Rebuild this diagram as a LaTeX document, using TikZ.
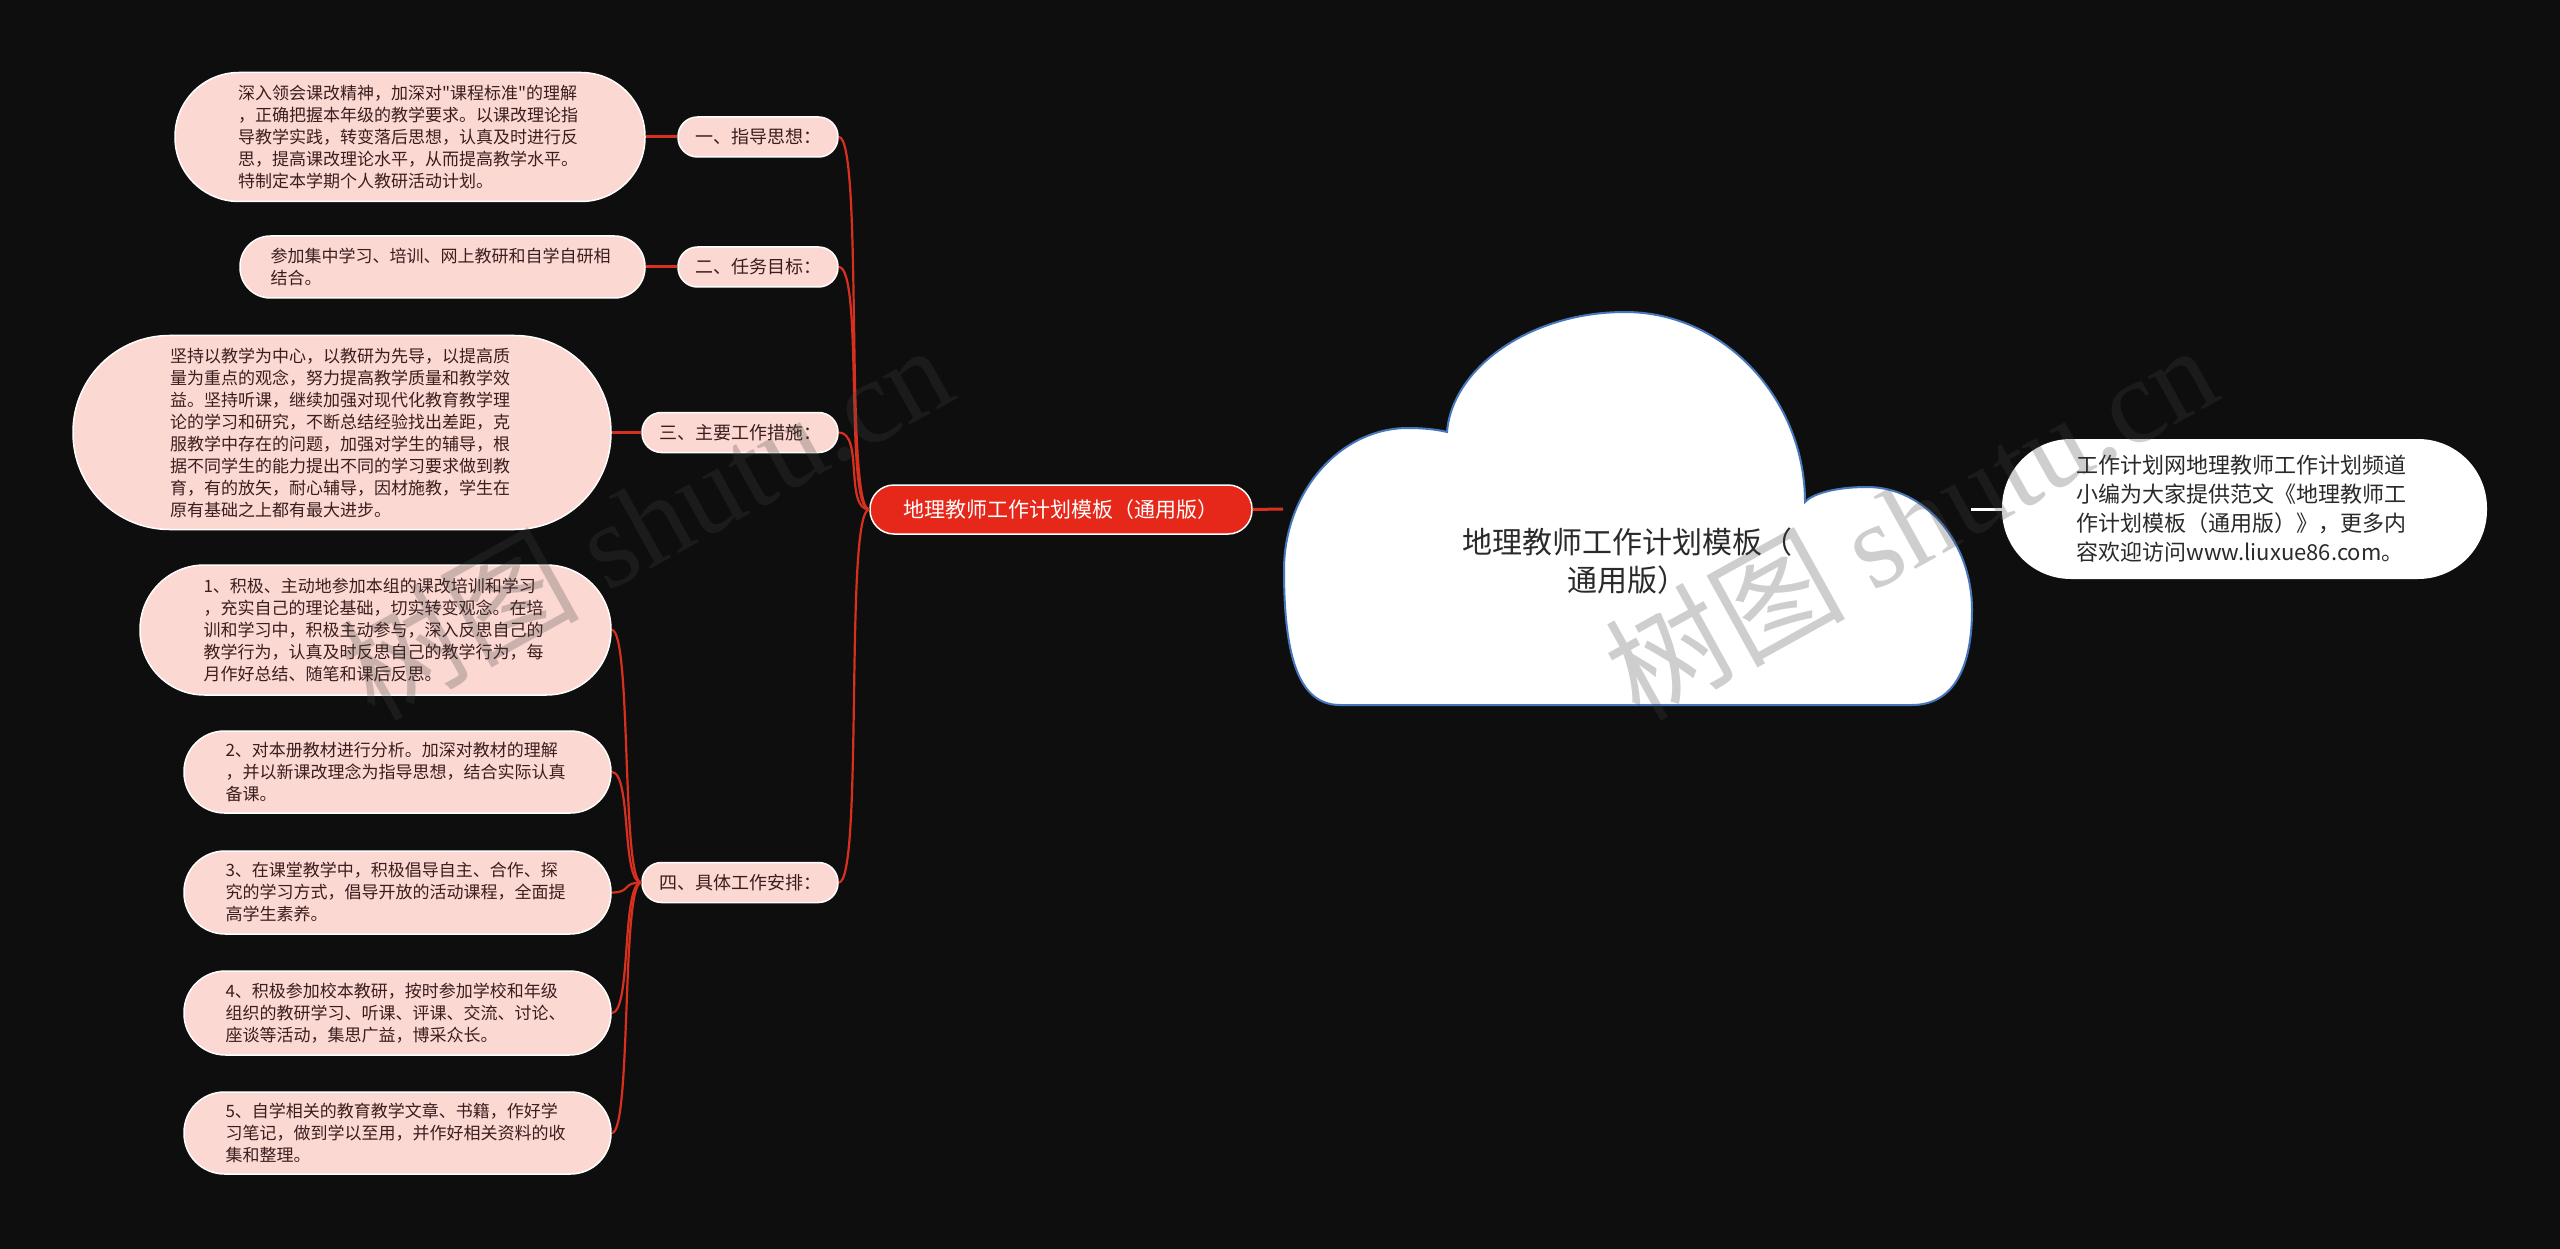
\documentclass[tikz,border=0pt]{standalone}
\usepackage{fontspec}
\setmainfont{Noto Sans CJK SC}
\newfontfamily\plaincjk{Noto Sans CJK SC}
\newfontfamily\wmlatin{Liberation Serif}
\newcommand{\sq}{{\plaincjk\symbol{34}}}
\definecolor{bgc}{HTML}{0E0E0E}
\definecolor{leaffill}{HTML}{FCD8D2}
\definecolor{leaftext}{HTML}{3A1E1E}
\definecolor{mainred}{HTML}{E6281B}
\definecolor{linkred}{HTML}{D8301F}
\definecolor{cloudblue}{HTML}{4677BC}
\definecolor{wmgray}{HTML}{424242}
\definecolor{darktext}{HTML}{2A2A2A}
\begin{document}
\begin{tikzpicture}[x=1pt,y=-1pt,
  leaf/.style={draw=white, line width=1.5pt, fill=leaffill, text=leaftext,
    font=\fontsize{17}{22}\selectfont, text width=344pt, align=left,
    inner xsep=0pt, inner ysep=0pt},
  lvl/.style={draw=white, line width=1.5pt, fill=leaffill, text=leaftext,
    font=\fontsize{18}{22}\selectfont, minimum height=40pt, rounded corners=19.5pt,
    inner sep=0pt},
  mainnode/.style={draw=white, line width=1.5pt, fill=mainred, text=white,
    font=\fontsize{21}{24}\selectfont, minimum width=382pt, minimum height=49pt,
    rounded corners=24pt, inner sep=0pt},
  notenode/.style={fill=white, text=darktext, font=\fontsize{22}{29}\selectfont,
    text width=336pt, align=left, minimum width=485pt, minimum height=140pt,
    rounded corners=69pt, inner sep=0pt},
  link/.style={draw=linkred, line width=2.2pt},
  linkh/.style={draw=linkred, line width=3pt},
  wm/.style={font=\fontsize{120}{120}\selectfont, text=wmgray, text opacity=0.26, inner sep=0pt}
]
\fill[bgc] (0,0) rectangle (2560,1249);
\useasboundingbox (0,0) rectangle (2560,1249);

% cloud
\draw[cloudblue, line width=2pt, fill=white]
  (1340,705) -- (1912,705)
  .. controls (1955,705) and (1972,665) .. (1972,610)
  .. controls (1972,542) and (1925,487) .. (1867,487)
  .. controls (1835,487) and (1812,494) .. (1805,502)
  .. controls (1805,400) and (1725,312) .. (1625,312)
  .. controls (1530,312) and (1452,368) .. (1447,432)
  .. controls (1435,429) and (1420,428) .. (1408,428)
  .. controls (1340,428) and (1284,492) .. (1284,570)
  .. controls (1284,660) and (1300,705) .. (1340,705) -- cycle;
\coordinate (cw) at (1283,509);
\coordinate (ce) at (1971,509);
\node[font=\fontsize{30}{38}\selectfont, text=darktext, align=center, inner sep=0pt]
  (root) at (1627,561) {地理教师工作计划模板（\\通用版）};

% main red node
\node[mainnode] (M) at (1061,509.5) {地理教师工作计划模板（通用版）};

% note
\node[notenode] (N) at (2244.5,509) {工作计划网地理教师工作计划频道\\小编为大家提供范文《地理教师工\\作计划模板（通用版）》，更多内\\容欢迎访问www.liuxue86.com。};

% level-1 nodes
\node[lvl, minimum width=160pt] (A1) at (758,137) {一、指导思想：};
\node[lvl, minimum width=160pt] (A2) at (758,267) {二、任务目标：};
\node[lvl, minimum width=196pt] (A3) at (740,432.5) {三、主要工作措施：};
\node[lvl, minimum width=196pt] (A4) at (740,882.5) {四、具体工作安排：};

% leaves
\node[leaf, minimum width=470pt, minimum height=129pt, rounded corners=64pt] (L1) at (410,137)
 {深入领会课改精神，加深对\sq 课程标准\sq 的理解\\，正确把握本年级的教学要求。以课改理论指\\导教学实践，转变落后思想，认真及时进行反\\思，提高课改理论水平，从而提高教学水平。\\特制定本学期个人教研活动计划。};
\node[leaf, minimum width=405pt, minimum height=62pt, rounded corners=30.5pt] (L2) at (442.5,267)
 {参加集中学习、培训、网上教研和自学自研相\\结合。};
\node[leaf, minimum width=538pt, minimum height=194pt, rounded corners=96.5pt] (L3) at (342,432.5)
 {坚持以教学为中心，以教研为先导，以提高质\\量为重点的观念，努力提高教学质量和教学效\\益。坚持听课，继续加强对现代化教育教学理\\论的学习和研究，不断总结经验找出差距，克\\服教学中存在的问题，加强对学生的辅导，根\\据不同学生的能力提出不同的学习要求做到教\\育，有的放矢，耐心辅导，因材施教，学生在\\原有基础之上都有最大进步。};
\node[leaf, minimum width=471pt, minimum height=130pt, rounded corners=64.5pt] (B1) at (375.5,630)
 {1、积极、主动地参加本组的课改培训和学习\\，充实自己的理论基础，切实转变观念。在培\\训和学习中，积极主动参与，深入反思自己的\\教学行为，认真及时反思自己的教学行为，每\\月作好总结、随笔和课后反思。};
\node[leaf, minimum width=427pt, minimum height=82pt, rounded corners=40.5pt] (B2) at (397.5,772)
 {2、对本册教材进行分析。加深对教材的理解\\，并以新课改理念为指导思想，结合实际认真\\备课。};
\node[leaf, minimum width=427pt, minimum height=83pt, rounded corners=41pt] (B3) at (397.5,892.5)
 {3、在课堂教学中，积极倡导自主、合作、探\\究的学习方式，倡导开放的活动课程，全面提\\高学生素养。};
\node[leaf, minimum width=427pt, minimum height=84pt, rounded corners=41.5pt] (B4) at (397.5,1013)
 {4、积极参加校本教研，按时参加学校和年级\\组织的教研学习、听课、评课、交流、讨论、\\座谈等活动，集思广益，博采众长。};
\node[leaf, minimum width=427pt, minimum height=82pt, rounded corners=40.5pt] (B5) at (397.5,1133)
 {5、自学相关的教育教学文章、书籍，作好学\\习笔记，做到学以至用，并作好相关资料的收\\集和整理。};

% connectors
\draw[linkh] (M.east) -- (cw);
\draw[white, line width=3pt] (ce) -- (N.west);
\foreach \a in {A1,A2,A3,A4}
  \draw[link] (\a.east) .. controls +(25,0) and +(-25,0) .. (M.west);
\draw[linkh] (L1.east) -- (A1.west);
\draw[linkh] (L2.east) -- (A2.west);
\draw[linkh] (L3.east) -- (A3.west);
\foreach \b in {B1,B2,B3,B4,B5}
  \draw[link] (A4.west) .. controls +(-20,0) and +(20,0) .. (\b.east);

% watermarks
\node[wm, rotate=29] (wm1) at (645,520) {树图 {\wmlatin shutu.cn}};
\node[wm, rotate=29] (wm2) at (1910,520) {树图 {\wmlatin shutu.cn}};
\end{tikzpicture}
\end{document}
